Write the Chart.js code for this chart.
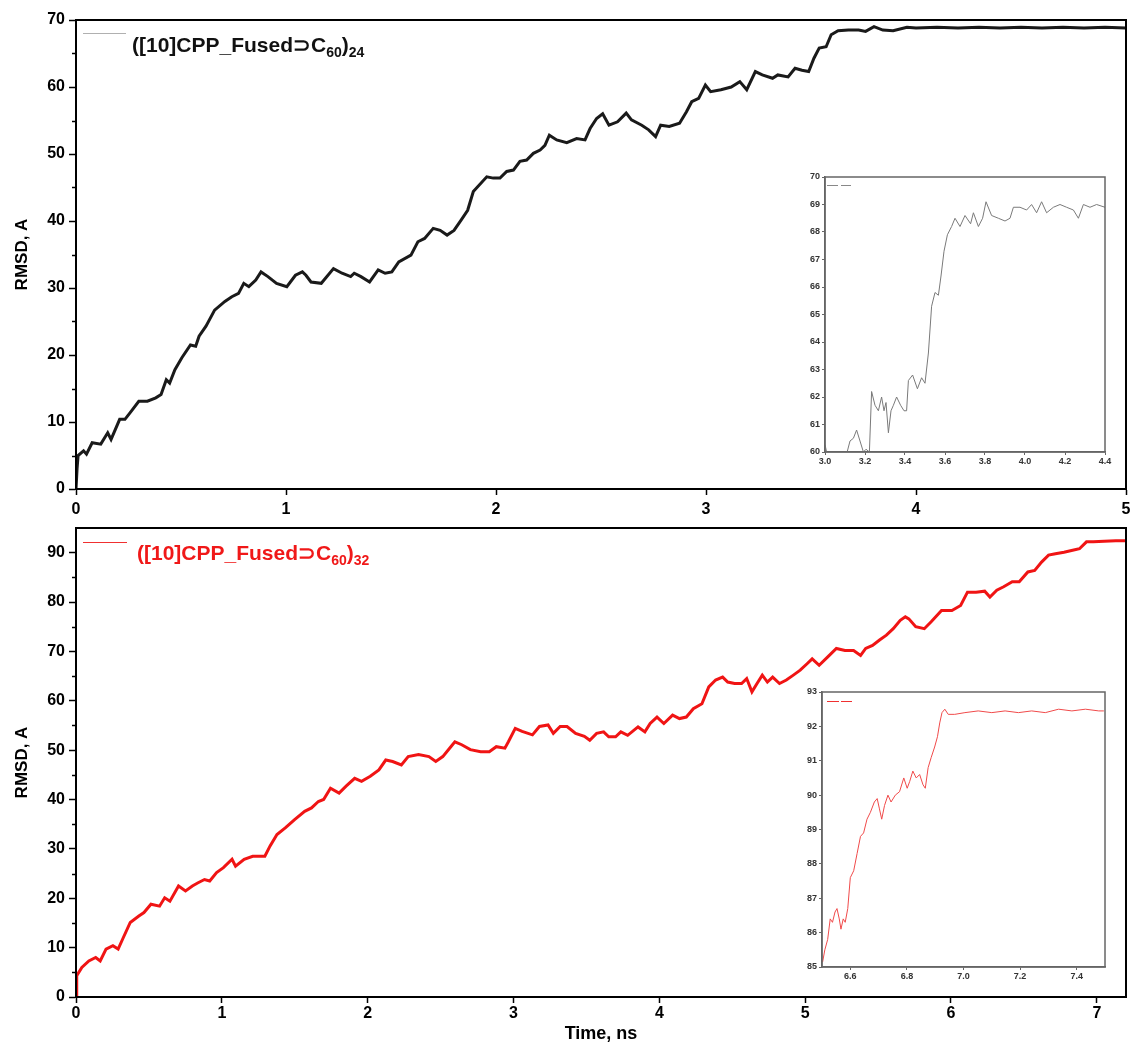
<!DOCTYPE html>
<html>
<head>
<meta charset="utf-8">
<title>RMSD vs time</title>
<script src="https://cdn.jsdelivr.net/npm/chart.js@4.4.1/dist/chart.umd.min.js"></script>
<style>
	html, body { margin: 0; padding: 0; background: #fff; }
	#page { position: relative; width: 1131px; height: 1046px; overflow: hidden; font-family: 'Liberation Sans', Arial, sans-serif; }
	.box { position: absolute; }
	.legend { position: absolute; font-weight: bold; font-size: 21px; white-space: nowrap; line-height: 1; }
	.legend sub { font-size: 14px; vertical-align: -5px; }
	.sample { position: absolute; height: 0; }
</style>
</head>
<body>
<div id="page">
	<div class="box" style="left:0;top:0;width:1131px;height:522px;"><canvas id="topChart"></canvas></div>
	<div class="box" style="left:0;top:520px;width:1131px;height:526px;"><canvas id="bottomChart"></canvas></div>
	<div class="box" style="left:792px;top:163px;width:323px;height:305px;"><canvas id="topInset"></canvas></div>
	<div class="box" style="left:789px;top:680px;width:326px;height:306px;"><canvas id="bottomInset"></canvas></div>

	<!-- legends (subscripts need html) -->
	<div class="sample" style="left:83px;top:33px;width:43px;border-top:1px solid #b0b0b0;"></div>
	<div class="legend" style="left:132px;top:34px;color:#111;">([10]CPP_Fused⊃C<sub>60</sub>)<sub>24</sub></div>
	<div class="sample" style="left:83px;top:542px;width:44px;border-top:1px solid #f03030;"></div>
	<div class="legend" style="left:137px;top:542px;color:#f01818;">([10]CPP_Fused⊃C<sub>60</sub>)<sub>32</sub></div>
	<div class="sample" style="left:827px;top:185px;width:11px;border-top:1px solid #888;"></div>
	<div class="sample" style="left:841px;top:185px;width:10px;border-top:1px solid #888;"></div>
	<div class="sample" style="left:827px;top:701px;width:12px;border-top:1px solid #f03030;"></div>
	<div class="sample" style="left:841px;top:701px;width:11px;border-top:1px solid #f03030;"></div>
</div>
<script>
//data (time in ns, RMSD in A)

const timeTop = [0, 0.005, 0.01, 0.036, 0.05, 0.077, 0.118, 0.151, 0.167, 0.208, 0.233, 0.258, 0.299, 0.34, 0.38, 0.405, 0.43, 0.446, 0.471, 0.504,
	0.545, 0.57, 0.586, 0.619, 0.66, 0.709, 0.742, 0.774, 0.799, 0.823, 0.856, 0.881, 0.914, 0.955, 1.004, 1.045, 1.078, 1.095, 1.119, 1.168,
	1.226, 1.267, 1.308, 1.325, 1.357, 1.398, 1.439, 1.472, 1.504, 1.537, 1.595, 1.628, 1.66, 1.701, 1.734, 1.767, 1.8, 1.833, 1.865, 1.892,
	1.956, 1.987, 2.019, 2.051, 2.083, 2.114, 2.146, 2.178, 2.21, 2.233, 2.254, 2.289, 2.337, 2.384, 2.424, 2.448, 2.479, 2.508, 2.538, 2.579,
	2.62, 2.645, 2.694, 2.727, 2.76, 2.784, 2.825, 2.874, 2.907, 2.932, 2.965, 2.997, 3.022, 3.071, 3.12, 3.161, 3.194, 3.235, 3.268, 3.317,
	3.342, 3.391, 3.424, 3.457, 3.489, 3.514, 3.539, 3.572, 3.596, 3.629, 3.678, 3.727, 3.76, 3.8, 3.842, 3.891, 3.957, 4.0, 4.1, 4.2,
	4.3, 4.4, 4.5, 4.6, 4.7, 4.8, 4.9, 5.0];
const rmsdTop = [0, 3.0, 5.0, 5.7, 5.2, 6.9, 6.7, 8.4, 7.4, 10.4, 10.4, 11.4, 13.1, 13.1, 13.6, 14.1, 16.3, 15.8, 17.8, 19.6,
	21.5, 21.3, 22.8, 24.3, 26.7, 28.0, 28.7, 29.2, 30.7, 30.2, 31.2, 32.4, 31.7, 30.7, 30.2, 31.9, 32.4, 31.9, 30.9, 30.7,
	32.9, 32.2, 31.7, 32.2, 31.7, 30.9, 32.7, 32.2, 32.4, 33.9, 34.9, 36.9, 37.4, 38.9, 38.6, 37.9, 38.6, 40.1, 41.6, 44.4,
	46.6, 46.4, 46.4, 47.4, 47.6, 48.9, 49.1, 50.1, 50.6, 51.3, 52.8, 52.1, 51.7, 52.3, 52.1, 53.8, 55.3, 56.0, 54.3, 54.8,
	56.1, 55.1, 54.3, 53.6, 52.6, 54.3, 54.1, 54.6, 56.3, 57.8, 58.3, 60.3, 59.3, 59.6, 60.0, 60.8, 59.6, 62.3, 61.8, 61.3,
	61.8, 61.5, 62.8, 62.5, 62.3, 64.3, 65.8, 66.0, 67.8, 68.4, 68.5, 68.5, 68.3, 69.0, 68.5, 68.4, 68.9, 68.8, 68.9, 68.8,
	68.9, 68.8, 68.9, 68.8, 68.9, 68.8, 68.9, 68.8];

const timeBottom = [0, 0.005, 0.04, 0.088, 0.135, 0.166, 0.206, 0.253, 0.289, 0.324, 0.372, 0.431, 0.466, 0.514, 0.573, 0.608, 0.644, 0.703, 0.751, 0.798,
	0.834, 0.881, 0.917, 0.964, 1.011, 1.07, 1.094, 1.153, 1.212, 1.295, 1.331, 1.378, 1.437, 1.497, 1.568, 1.615, 1.662, 1.698, 1.745, 1.804,
	1.852, 1.911, 1.958, 2.018, 2.077, 2.124, 2.171, 2.231, 2.278, 2.349, 2.42, 2.467, 2.515, 2.562, 2.598, 2.645, 2.704, 2.775, 2.834, 2.882,
	2.941, 2.965, 3.012, 3.059, 3.13, 3.178, 3.237, 3.273, 3.32, 3.367, 3.426, 3.486, 3.523, 3.57, 3.618, 3.653, 3.7, 3.736, 3.783, 3.854,
	3.901, 3.937, 3.984, 4.031, 4.091, 4.138, 4.185, 4.233, 4.292, 4.339, 4.386, 4.434, 4.469, 4.516, 4.564, 4.599, 4.635, 4.67, 4.706, 4.741,
	4.777, 4.824, 4.871, 4.919, 4.966, 5.013, 5.048, 5.096, 5.155, 5.214, 5.273, 5.332, 5.38, 5.415, 5.462, 5.51, 5.557, 5.604, 5.652, 5.687,
	5.711, 5.758, 5.817, 5.864, 5.935, 6.006, 6.066, 6.113, 6.172, 6.231, 6.267, 6.314, 6.361, 6.42, 6.468, 6.527, 6.574, 6.621, 6.669, 6.716,
	6.775, 6.834, 6.881, 6.929, 6.976, 7.05, 7.13, 7.2];
const rmsdBottom = [0, 4.3, 6.0, 7.3, 8.0, 7.3, 9.7, 10.4, 9.7, 12.0, 15.1, 16.4, 17.1, 18.8, 18.4, 20.1, 19.4, 22.5, 21.5, 22.5,
	23.1, 23.8, 23.5, 25.2, 26.2, 27.9, 26.5, 27.9, 28.5, 28.5, 30.6, 32.9, 34.3, 35.9, 37.6, 38.3, 39.6, 40.0, 42.3, 41.3,
	42.7, 44.3, 43.7, 44.7, 46.0, 48.0, 47.7, 47.0, 48.7, 49.1, 48.7, 47.7, 48.7, 50.4, 51.7, 51.1, 50.1, 49.7, 49.7, 50.7,
	50.4, 51.7, 54.4, 53.8, 53.1, 54.8, 55.1, 53.4, 54.8, 54.8, 53.4, 52.8, 52.0, 53.4, 53.7, 52.7, 52.7, 53.7, 53.0, 54.7,
	53.7, 55.4, 56.7, 55.4, 57.1, 56.4, 56.7, 58.4, 59.4, 62.8, 64.2, 64.8, 63.8, 63.5, 63.5, 64.5, 61.8, 63.5, 65.2, 63.8,
	64.8, 63.5, 64.2, 65.2, 66.2, 67.5, 68.5, 67.2, 68.9, 70.6, 70.2, 70.2, 69.2, 70.6, 71.2, 72.3, 73.3, 74.6, 76.3, 77.0,
	76.6, 75.0, 74.6, 76.0, 78.3, 78.3, 79.3, 82.0, 82.0, 82.2, 81.0, 82.4, 83.1, 84.1, 84.1, 86.1, 86.4, 88.1, 89.5, 89.8,
	90.1, 90.5, 90.8, 92.2, 92.2, 92.3, 92.4, 92.4];

//inset of the top run: 3.0 - 4.4 ns
const timeTopInset = [3.0, 3.008, 3.05, 3.1, 3.125, 3.142, 3.158, 3.175, 3.192, 3.205, 3.222, 3.233, 3.25, 3.267, 3.283, 3.295, 3.305, 3.317, 3.33, 3.342,
	3.358, 3.378, 3.395, 3.408, 3.417, 3.438, 3.462, 3.483, 3.5, 3.517, 3.533, 3.55, 3.567, 3.58, 3.595, 3.612, 3.633, 3.65, 3.675, 3.7,
	3.728, 3.742, 3.767, 3.788, 3.805, 3.833, 3.867, 3.9, 3.925, 3.942, 3.975, 4.008, 4.033, 4.058, 4.083, 4.108, 4.142, 4.175, 4.208, 4.242,
	4.267, 4.292, 4.325, 4.358, 4.4];
const rmsdTopInset = [60.27, 60.0, 59.5, 59.7, 60.4, 60.5, 60.8, 60.4, 60.0, 60.1, 60.0, 62.2, 61.7, 61.5, 62.0, 61.5, 61.8, 60.7, 61.5, 61.7,
	62.0, 61.7, 61.5, 61.5, 62.6, 62.8, 62.3, 62.7, 62.5, 63.6, 65.3, 65.8, 65.7, 66.4, 67.3, 67.9, 68.2, 68.5, 68.2, 68.6,
	68.3, 68.7, 68.2, 68.5, 69.1, 68.6, 68.5, 68.4, 68.5, 68.9, 68.9, 68.8, 69.0, 68.7, 69.1, 68.7, 68.9, 69.0, 68.9, 68.8,
	68.5, 69.0, 68.9, 69.0, 68.9];
const topInsetXTicks = [3.0, 3.2, 3.4, 3.6, 3.8, 4.0, 4.2, 4.4];

//inset of the bottom run: 6.5 - 7.5 ns
const timeBottomInset = [6.502, 6.51, 6.52, 6.529, 6.537, 6.546, 6.553, 6.561, 6.567, 6.575, 6.582, 6.591, 6.6, 6.612, 6.624, 6.636, 6.647, 6.659, 6.671, 6.685,
	6.695, 6.703, 6.711, 6.721, 6.733, 6.744, 6.759, 6.774, 6.789, 6.801, 6.81, 6.821, 6.833, 6.845, 6.857, 6.865, 6.875, 6.886, 6.898, 6.908,
	6.916, 6.924, 6.934, 6.946, 6.969, 7.005, 7.052, 7.1, 7.147, 7.194, 7.241, 7.289, 7.336, 7.383, 7.431, 7.478, 7.496];
const rmsdBottomInset = [85.14, 85.5, 85.8, 86.4, 86.3, 86.6, 86.7, 86.4, 86.1, 86.4, 86.3, 86.7, 87.6, 87.8, 88.3, 88.8, 88.9, 89.3, 89.5, 89.8,
	89.9, 89.6, 89.3, 89.7, 90.0, 89.8, 90.0, 90.1, 90.5, 90.2, 90.4, 90.7, 90.5, 90.6, 90.3, 90.2, 90.8, 91.1, 91.4, 91.7,
	92.1, 92.4, 92.5, 92.35, 92.35, 92.4, 92.45, 92.4, 92.45, 92.4, 92.45, 92.4, 92.5, 92.45, 92.5, 92.45, 92.45];
const bottomInsetXTicks = [6.6, 6.8, 7.0, 7.2, 7.4];

//axis labels
const yTitle = 'RMSD, A';
const xTitle = 'Time, ns';

//helpers

function points(xs, ys) {
	return xs.map((x, i) => ({x: x, y: ys[i]}));
}

// box around the plot + short minor ticks on the y axis
const framePlugin = {
	id: 'frame',
	afterDraw(chart, args, opts) {
		const {ctx, chartArea: a, scales} = chart;
		ctx.save();
		ctx.strokeStyle = opts.color;
		ctx.lineWidth = opts.width;
		ctx.strokeRect(a.left, a.top, a.right - a.left, a.bottom - a.top);
		if (opts.minorY) {
			const y = scales.y;
			ctx.lineWidth = 1.5;
			for (let v = y.min + opts.minorY; v < y.max; v += opts.minorY * 2) {
				const py = Math.round(y.getPixelForValue(v)) + 0.5;
				ctx.beginPath();
				ctx.moveTo(a.left - 4, py);
				ctx.lineTo(a.left, py);
				ctx.stroke();
			}
		}
		ctx.restore();
	}
};

Chart.defaults.font.family = "'Liberation Sans', Arial, sans-serif";
Chart.defaults.font.weight = 'bold';
Chart.defaults.color = '#000';

// fixed axis box sizes, so the plot areas land where they are in the figure
function fixHeight(h) {
	return (s) => { s.height = h; s.paddingLeft = 0; s.paddingRight = 0; };
}
function fixWidth(w) {
	return (s) => { s.width = w; s.paddingTop = 0; s.paddingBottom = 0; };
}

function mainChart(id, data, color, xMax, yMax, pad, xHeight, xLabelPad, showXTitle) {
	return new Chart(document.getElementById(id), {
		type: 'line',
		data: {
			datasets: [{
				data: data,
				borderColor: color,
				borderWidth: 3,
				pointRadius: 0,
				tension: 0
			}]
		},
		options: {
			responsive: true,
			maintainAspectRatio: false,
			animation: false,
			layout: {padding: pad},
			plugins: {
				legend: {display: false},
				tooltip: {enabled: false},
				frame: {color: '#000', width: 2, minorY: 5}
			},
			scales: {
				x: {
					type: 'linear',
					min: 0,
					max: xMax,
					afterFit: fixHeight(xHeight),
					ticks: {stepSize: 1, includeBounds: false, padding: xLabelPad, maxRotation: 0, font: {size: 16}},
					grid: {drawOnChartArea: false, tickLength: 6, tickWidth: 1.5, tickColor: '#000'},
					border: {color: '#000', width: 2},
					title: {display: showXTitle, text: xTitle, font: {size: 18}, padding: {top: 0, bottom: 1}}
				},
				y: {
					min: 0,
					max: yMax,
					afterFit: fixWidth(76),
					ticks: {stepSize: 10, includeBounds: false, padding: 4, font: {size: 16}},
					grid: {drawOnChartArea: false, tickLength: 7, tickWidth: 1.5, tickColor: '#000'},
					border: {color: '#000', width: 2},
					title: {display: true, text: yTitle, font: {size: 17}, padding: {top: 12, bottom: 0}}
				}
			}
		},
		plugins: [framePlugin]
	});
}

function insetChart(id, data, color, xMin, xMax, xTicks, yMin, yMax, pad, xHeight) {
	return new Chart(document.getElementById(id), {
		type: 'line',
		data: {
			datasets: [{
				data: data,
				borderColor: color,
				borderWidth: 1,
				pointRadius: 0,
				tension: 0
			}]
		},
		options: {
			responsive: true,
			maintainAspectRatio: false,
			animation: false,
			layout: {padding: pad},
			plugins: {
				legend: {display: false},
				tooltip: {enabled: false},
				frame: {color: '#666', width: 1.5}
			},
			scales: {
				x: {
					type: 'linear',
					min: xMin,
					max: xMax,
					afterFit: fixHeight(xHeight),
					afterBuildTicks: (s) => { s.ticks = xTicks.map((v) => ({value: v})); },
					ticks: {padding: 1, maxRotation: 0, color: '#333', font: {size: 9},
						callback: (v) => Number(v).toFixed(1)},
					grid: {drawOnChartArea: false, tickLength: 3, tickColor: '#666'},
					border: {color: '#666', width: 1.5}
				},
				y: {
					min: yMin,
					max: yMax,
					afterFit: fixWidth(33),
					ticks: {stepSize: 1, padding: 2, color: '#333', font: {size: 9}},
					grid: {drawOnChartArea: false, tickLength: 3, tickColor: '#666'},
					border: {color: '#666', width: 1.5}
				}
			}
		},
		plugins: [framePlugin]
	});
}

mainChart('topChart', points(timeTop, rmsdTop), '#1a1a1a', 5, 70, {top: 20, right: 5, left: 0, bottom: 0}, 33, 5, false);
mainChart('bottomChart', points(timeBottom, rmsdBottom), '#f01414', 7.2, 95, {top: 8, right: 5, left: 0, bottom: 0}, 49, 1, true);
insetChart('topInset', points(timeTopInset, rmsdTopInset), '#7a7a7a', 3.0, 4.4, topInsetXTicks, 60, 70, {top: 14, right: 10, left: 0, bottom: 0}, 16);
insetChart('bottomInset', points(timeBottomInset, rmsdBottomInset), '#f04a4a', 6.5, 7.5, bottomInsetXTicks, 85, 93, {top: 12, right: 10, left: 0, bottom: 0}, 19);
</script>
</body>
</html>
